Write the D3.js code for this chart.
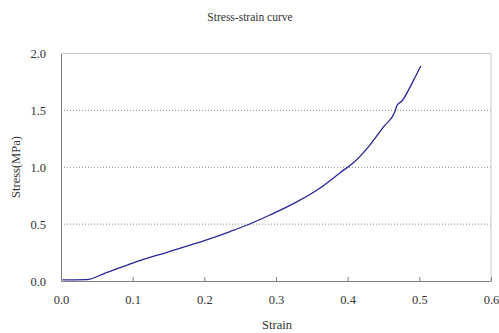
<!DOCTYPE html>
<html><head><meta charset="utf-8">
<script src="https://cdn.jsdelivr.net/npm/d3@7"></script>
<style>body{margin:0;background:#fff}</style>
</head><body><svg id="c" width="499" height="333"></svg>
<script>
const strain = [0.002, 0.036, 0.06, 0.1, 0.15, 0.2, 0.236, 0.259, 0.2915, 0.329, 0.361, 0.378, 0.389, 0.408, 0.431, 0.45, 0.466, 0.469, 0.476, 0.491, 0.502];
const stress = [0.01, 0.012, 0.065, 0.158, 0.257, 0.355, 0.435, 0.49, 0.58, 0.695, 0.815, 0.895, 0.95, 1.04, 1.195, 1.355, 1.49, 1.545, 1.585, 1.753, 1.89];
const xTicks = [0, 0.1, 0.2, 0.3, 0.4, 0.5, 0.6];
const yTicks = [0, 0.5, 1.0, 1.5, 2.0];

const svg = d3.select("#c");
const L = 61, R = 491, T = 53.5, B = 281;
const x = d3.scaleLinear().domain([0, 0.6]).range([L, R]);
const y = d3.scaleLinear().domain([0, 2]).range([B, T]);
const serif = "'Liberation Serif'";

svg.append("g").selectAll("line").data(yTicks.filter(d => d > 0 && d < 2)).join("line")
  .attr("x1", L).attr("x2", R).attr("y1", d => y(d)).attr("y2", d => y(d))
  .attr("stroke", "#888").attr("stroke-width", 1).attr("stroke-dasharray", "1,2");

svg.append("path").attr("d", `M${L},${T}H${R}V${B}`).attr("fill", "none").attr("stroke", "#c8c8c8").attr("stroke-width", 1);

const xa = svg.append("g").attr("transform", `translate(0,${B})`)
  .call(d3.axisBottom(x).tickValues(xTicks).tickSizeInner(-4).tickSizeOuter(0).tickPadding(14).tickFormat(d3.format(".1f")));
const ya = svg.append("g").attr("transform", `translate(${L},0)`)
  .call(d3.axisLeft(y).tickValues(yTicks).tickSizeInner(0).tickSizeOuter(0).tickPadding(15).tickFormat(d3.format(".1f")));
[xa, ya].forEach(g => {
  g.attr("font-family", null);
  g.select(".domain").attr("stroke", "#808080");
  g.selectAll(".tick line").attr("stroke", "#808080");
  g.selectAll("text").style("font-family", serif).attr("font-size", 12.5).attr("fill", "#333");
});

const pts = strain.map((s, i) => [s, stress[i]]);
svg.append("path").datum(pts)
  .attr("d", d3.line().x(d => x(d[0])).y(d => y(d[1])).curve(d3.curveMonotoneX))
  .attr("fill", "none").attr("stroke", "#26269a").attr("stroke-width", 1.3);

svg.append("text").attr("x", 250).attr("y", 21).attr("text-anchor", "middle").style("font-family", serif)
  .attr("font-size", 11.5).attr("fill", "#333").text("Stress-strain curve");
svg.append("text").attr("x", 277).attr("y", 329).attr("text-anchor", "middle").style("font-family", serif)
  .attr("font-size", 12.5).attr("fill", "#333").text("Strain");
svg.append("text").attr("transform", "translate(20,167) rotate(-90)").attr("text-anchor", "middle").style("font-family", serif)
  .attr("font-size", 12.5).attr("fill", "#333").text("Stress(MPa)");
</script></body></html>
